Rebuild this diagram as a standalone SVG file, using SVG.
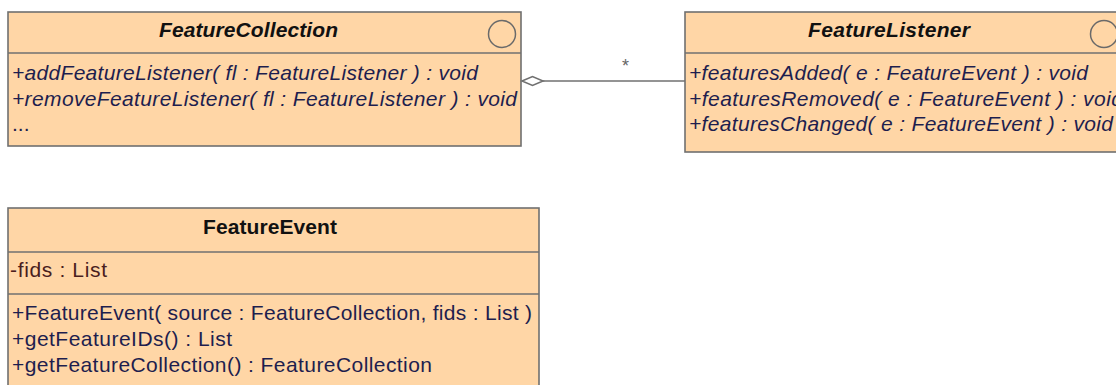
<svg xmlns="http://www.w3.org/2000/svg" width="1116" height="385" viewBox="0 0 1116 385">
  <style>
    .box { fill: #FFD6A6; stroke: #707070; stroke-width: 1.6; }
    .sep { stroke: #707070; stroke-width: 1.6; }
    .icon { fill: none; stroke: #6A6A6A; stroke-width: 1.5; }
    .title { font-family: "Liberation Sans", Arial, sans-serif; font-size: 21px; font-weight: bold; fill: #111; }
    .ital { font-style: italic; }
    .op { font-family: "Liberation Sans", Arial, sans-serif; font-size: 21px; fill: #1E1E4E; }
    .attr { font-family: "Liberation Sans", Arial, sans-serif; font-size: 21px; fill: #4A1E1E; }
    .link { stroke: #707070; stroke-width: 1.6; fill: none; }
    .mult { font-family: "Liberation Sans", Arial, sans-serif; font-size: 18px; fill: #666; }
  </style>
  <rect width="1116" height="385" fill="#FFFFFF"/>

  <!-- interface FeatureCollection -->
  <g id="FeatureCollection">
    <rect class="box" x="8" y="12" width="513" height="134"/>
    <line class="sep" x1="8" y1="53" x2="521" y2="53"/>
    <circle class="icon" cx="502" cy="34" r="13.5"/>
    <text class="title ital" x="159" y="37" textLength="179" lengthAdjust="spacing">FeatureCollection</text>
    <text class="op ital" x="12" y="80" textLength="466" lengthAdjust="spacing">+addFeatureListener( fl : FeatureListener ) : void</text>
    <text class="op ital" x="12" y="106" textLength="505" lengthAdjust="spacing">+removeFeatureListener( fl : FeatureListener ) : void</text>
    <text class="op" x="12" y="131">...</text>
  </g>

  <!-- interface FeatureListener -->
  <g id="FeatureListener">
    <rect class="box" x="685" y="12" width="440" height="140"/>
    <line class="sep" x1="685" y1="53" x2="1125" y2="53"/>
    <circle class="icon" cx="1104" cy="34" r="13.5"/>
    <text class="title ital" x="808" y="37" textLength="162" lengthAdjust="spacing">FeatureListener</text>
    <text class="op ital" x="689" y="80" textLength="399" lengthAdjust="spacing">+featuresAdded( e : FeatureEvent ) : void</text>
    <text class="op ital" x="689" y="106" textLength="434" lengthAdjust="spacing">+featuresRemoved( e : FeatureEvent ) : void</text>
    <text class="op ital" x="689" y="131" textLength="424" lengthAdjust="spacing">+featuresChanged( e : FeatureEvent ) : void</text>
  </g>

  <!-- class FeatureEvent -->
  <g id="FeatureEvent">
    <rect class="box" x="8" y="208" width="531" height="190"/>
    <line class="sep" x1="8" y1="252" x2="539" y2="252"/>
    <line class="sep" x1="8" y1="294" x2="539" y2="294"/>
    <text class="title" x="203" y="234" textLength="134" lengthAdjust="spacing">FeatureEvent</text>
    <text class="attr" x="10" y="277" textLength="97" lengthAdjust="spacing">-fids : List</text>
    <text class="op" x="12" y="320" textLength="520" lengthAdjust="spacing">+FeatureEvent( source : FeatureCollection, fids : List )</text>
    <text class="op" x="12" y="346" textLength="220" lengthAdjust="spacing">+getFeatureIDs() : List</text>
    <text class="op" x="12" y="372" textLength="420" lengthAdjust="spacing">+getFeatureCollection() : FeatureCollection</text>
  </g>

  <!-- aggregation: FeatureCollection holds many FeatureListener -->
  <g id="connectors">
    <line class="link" x1="543" y1="81" x2="685" y2="81"/>
    <polygon class="link" points="522,81 532.5,76.5 543,81 532.5,85.5" fill="#FFFFFF"/>
    <text class="mult" x="622" y="72">*</text>
  </g>
</svg>
